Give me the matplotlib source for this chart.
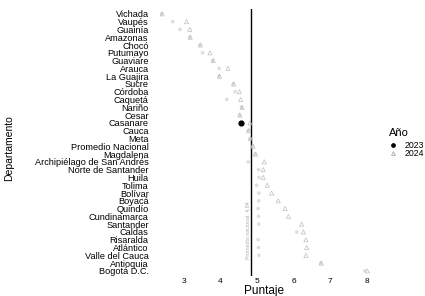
import numpy as np
import matplotlib
matplotlib.use('Agg')
import matplotlib.pyplot as plt

plt.rcParams['font.family'] = ['Liberation Sans', 'DejaVu Sans']

# Departamentos, de arriba hacia abajo
departamentos = ['Vichada', 'Vaupés', 'Guainía', 'Amazonas', 'Chocó', 'Putumayo',
                 'Guaviare', 'Arauca', 'La Guajira', 'Sucre', 'Córdoba', 'Caquetá',
                 'Nariño', 'Cesar', 'Casanare', 'Cauca', 'Meta', 'Promedio Nacional',
                 'Magdalena', 'Archipiélago de San Andrés', 'Norte de Santander',
                 'Huila', 'Tolima', 'Bolívar', 'Boyacá', 'Quindío', 'Cundinamarca',
                 'Santander', 'Caldas', 'Risaralda', 'Atlántico', 'Valle del Cauca',
                 'Antioquia', 'Bogotá D.C.']

puntaje_2023 = [2.39, 2.69, 2.89, 3.16, 3.44, 3.51, 3.79, 3.96, 3.96, 4.35, 4.40, 4.17,
                4.58, 4.52, 4.55, 4.76, 4.81, 4.88, 4.95, 4.76, 5.04, 5.05, 4.99, 5.05,
                5.05, 5.03, 5.04, 5.05, 6.09, 5.03, 5.04, 5.05, 6.75, 7.95]
puntaje_2024 = [2.40, 3.07, 3.16, 3.17, 3.45, 3.71, 3.80, 4.20, 3.97, 4.36, 4.52, 4.55,
                4.59, 4.53, 4.81, 4.77, 4.82, 4.89, 4.96, 5.20, 5.17, 5.17, 5.28, 5.40,
                5.58, 5.77, 5.86, 6.22, 6.27, 6.34, 6.36, 6.34, 6.76, 8.02]

# fila resaltada (punto negro)
resaltado = 'Casanare'
promedio = 4.84

y = np.arange(len(departamentos))

fig = plt.figure(figsize=(4.25, 2.96), dpi=100)
ax = fig.add_axes([0.3565, 0.069, 0.53, 0.90])

ax.axvline(promedio, color='black', lw=1.0, zorder=1)
ax.text(promedio - 0.08, 27.8, 'Promedio nacional: 4.84', rotation=90, fontsize=3.8,
        color='#999999', ha='center', va='center', alpha=0.8)

ax.scatter(puntaje_2023, y, marker='o', s=7, color='#d0d0d0', alpha=0.7,
           edgecolors='none', zorder=2)
ax.scatter(puntaje_2024, y, marker='^', s=9, facecolors='none', edgecolors='#b8b8b8',
           linewidths=0.5, alpha=0.9, zorder=2)

i = departamentos.index(resaltado)
ax.scatter([puntaje_2023[i]], [i], marker='o', s=12, color='black', zorder=3)

ax.set_ylim(len(departamentos) - 0.4, -0.6)
ax.set_xlim(2.11, 8.28)
ax.set_yticks(y)
ax.set_yticklabels(departamentos, fontsize=6.6)
ax.set_xticks([3, 4, 5, 6, 7, 8])
ax.tick_params(axis='x', labelsize=6, length=0, pad=2)
ax.tick_params(axis='y', length=0, pad=2)
for s in ax.spines.values():
    s.set_visible(False)

ax.set_xlabel('Puntaje', fontsize=8.5, labelpad=0)
fig.text(0.022, 0.5, 'Departamento', rotation=90, fontsize=7.5, ha='center', va='center')

# leyenda
fig.text(0.916, 0.551, 'Año', fontsize=8, ha='left', va='center')
fig.lines.append(plt.Line2D([0.925], [0.51], marker='o', ms=2.4, color='black',
                            transform=fig.transFigure))
fig.text(0.951, 0.51, '2023', fontsize=6.3, ha='left', va='center')
fig.lines.append(plt.Line2D([0.925], [0.483], marker='^', ms=2.8, mfc='none',
                            mec='#999999', mew=0.5, transform=fig.transFigure))
fig.text(0.951, 0.483, '2024', fontsize=6.3, ha='left', va='center')

fig.savefig('out.png', dpi=100)
